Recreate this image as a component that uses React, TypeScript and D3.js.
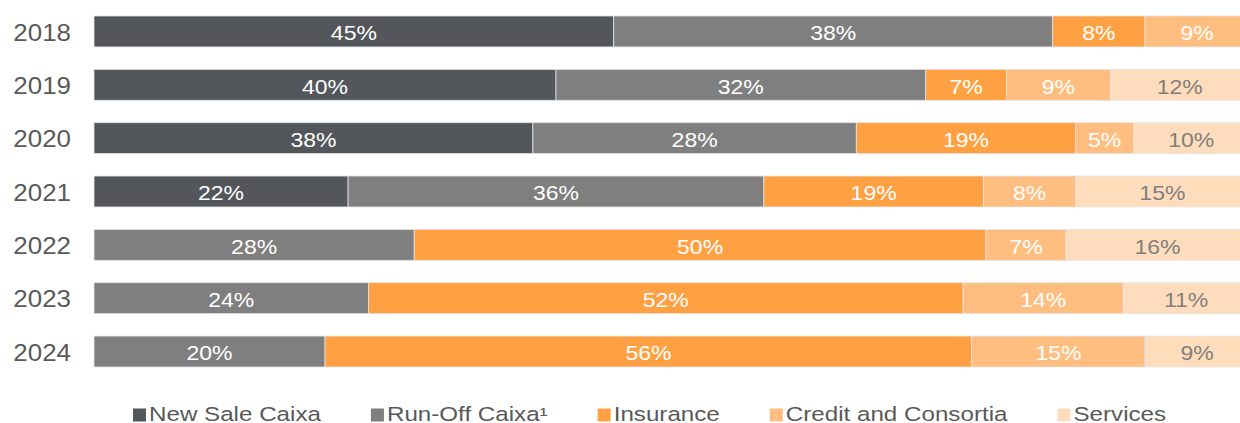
import React, { useRef, useEffect } from 'react';
import * as d3 from 'd3';

const years = ['2018', '2019', '2020', '2021', '2022', '2023', '2024'];
const seriesNames = ['New Sale Caixa', 'Run-Off Caixa¹', 'Insurance', 'Credit and Consortia', 'Services'];
const newSale = [45, 40, 38, 22, 0, 0, 0];
const runOff = [38, 32, 28, 36, 28, 24, 20];
const insurance = [8, 7, 19, 19, 50, 52, 56];
const credit = [9, 9, 5, 8, 7, 14, 15];
const services = [0, 12, 10, 15, 16, 11, 9];

const colors = ['#53575B', '#7F7F7F', '#FFA143', '#FFBE80', '#FFDDBC'];
const labelColors = ['#ffffff', '#ffffff', '#ffffff', '#ffffff', '#7F7F7F'];

const W = 1240;
const H = 423;

const App: React.FC = () => {
  const svgRef = useRef<SVGSVGElement>(null);

  useEffect(() => {
    if (!svgRef.current) return;
    const svg = d3.select(svgRef.current);
    svg.selectAll('*').remove();

    const font = '"Liberation Sans", Arial, sans-serif';
    const keys = ['s0', 's1', 's2', 's3', 's4'];
    const series = [newSale, runOff, insurance, credit, services];
    const rows = years.map((y, i) => {
      const r: any = { year: y };
      keys.forEach((k, j) => (r[k] = series[j][i]));
      return r;
    });

    const stacked = d3.stack<any>().keys(keys).offset(d3.stackOffsetExpand)(rows);

    const x = d3.scaleLinear().domain([0, 1]).range([94, 1249]);
    const y = d3.scaleBand().domain(years).range([16, 367]).paddingInner(0.42).paddingOuter(0);

    // the source text is a bit wider than the font, so stretch it horizontally
    const addText = (parent: any, tx: number, ty: number, sx: number, size: number, fill: string, anchor: string, txt: string) => {
      const g = parent.append('g').attr('transform', `translate(${tx},${ty}) scale(${sx},1)`);
      return g.append('text')
        .attr('text-anchor', anchor)
        .attr('font-family', font)
        .attr('font-size', `${size}px`)
        .attr('fill', fill)
        .text(txt);
    };

    // bars
    const layers = svg.append('g')
      .selectAll('g')
      .data(stacked)
      .enter()
      .append('g')
      .attr('fill', (d, i) => colors[i]);

    layers.selectAll('rect')
      .data(d => d.filter(p => p[1] - p[0] > 0))
      .enter()
      .append('rect')
      .attr('x', d => x(d[0]))
      .attr('y', d => y(d.data.year)!)
      .attr('width', d => x(d[1]) - x(d[0]))
      .attr('height', y.bandwidth())
      .attr('stroke', '#e4e4e4')
      .attr('stroke-width', 0.8);

    // segment labels
    const labels = svg.append('g');
    stacked.forEach((layer, i) => {
      layer.filter(p => p[1] - p[0] > 0).forEach(d => {
        addText(labels, (x(d[0]) + x(d[1])) / 2, y(d.data.year)! + y.bandwidth() / 2 + 8.8,
          1.15, 20, labelColors[i], 'middle', `${d.data[keys[i]]}%`);
      });
    });

    // year labels
    const yl = svg.append('g');
    years.forEach(d => {
      addText(yl, 71, y(d)! + y.bandwidth() / 2 + 9.3, 1.08, 24, '#595959', 'end', d);
    });

    // legend
    const legend = svg.append('g');
    const sx = 1.24;
    let lx = 133;
    seriesNames.forEach((name, i) => {
      legend.append('rect')
        .attr('x', lx)
        .attr('y', 408.5)
        .attr('width', 13)
        .attr('height', 13)
        .attr('fill', colors[i]);
      const t = addText(legend, lx + 16, 421, sx, 19.5, '#595959', 'start', name);
      const w = (t.node() as SVGTextElement).getComputedTextLength() * sx;
      lx += 16 + w + 50;
    });
  }, []);

  return (
    <div style={{ position: 'absolute', left: 0, top: 0, width: W, height: H, background: '#fff' }}>
      <svg ref={svgRef} width={W} height={H} style={{ display: 'block' }} />
    </div>
  );
};

export default App;
